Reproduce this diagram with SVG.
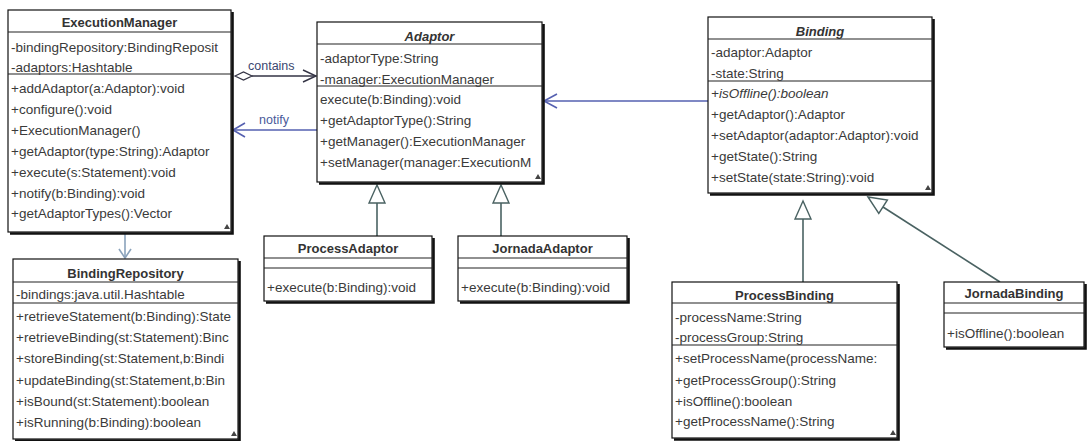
<svg xmlns="http://www.w3.org/2000/svg" width="1087" height="441" viewBox="0 0 1087 441">
  <style>
    .box { fill: #ffffff; stroke: #111111; stroke-width: 1.2; }
    .shadow { fill: none; stroke: #111111; stroke-width: 2.6; }
    .sep { stroke: #222222; stroke-width: 1.2; }
    .title { font-family: "Liberation Sans", Arial, sans-serif; font-size: 13px; font-weight: bold; fill: #333333; text-anchor: middle; }
    .title-abs { font-style: italic; }
    .member { font-family: "Liberation Sans", Arial, sans-serif; font-size: 13.5px; fill: #3a3a3a; }
    .abs { font-style: italic; }
    .corner { fill: #444444; }
    .gen { fill: none; stroke: #4a6262; stroke-width: 1.6; }
    .gen-head { fill: #ffffff; stroke: #4a6262; stroke-width: 1.4; }
    .assoc-dark { fill: none; stroke: #333344; stroke-width: 1.4; }
    .assoc-blue { fill: none; stroke: #5560b0; stroke-width: 1.6; }
    .assoc-light { fill: none; stroke: #8aa2bb; stroke-width: 1.6; }
    .label { font-family: "Liberation Sans", Arial, sans-serif; font-size: 12.5px; }
  </style>

  <!-- connectors -->
  <g id="connectors">
    <!-- ExecutionManager contains Adaptor (aggregation) -->
    <polygon class="box" points="235,76 243.5,72 252,76 243.5,80" style="stroke:#333344"/>
    <line class="assoc-dark" x1="252" y1="76" x2="316" y2="76"/>
    <polyline class="assoc-dark" points="303,70 316,76 303,82"/>
    <text class="label" x="248" y="70" fill="#3a4670">contains</text>

    <!-- Adaptor notify ExecutionManager -->
    <line class="assoc-blue" x1="317" y1="130" x2="233" y2="130"/>
    <polyline class="assoc-blue" points="245,123 233,130 245,137"/>
    <text class="label" x="259" y="124" fill="#4a5a9a">notify</text>

    <!-- Binding to Adaptor -->
    <line class="assoc-blue" x1="708" y1="101" x2="544" y2="101"/>
    <polyline class="assoc-blue" points="557,94 544,101 557,108"/>

    <!-- ExecutionManager to BindingRepository -->
    <line class="assoc-light" x1="125" y1="234" x2="125" y2="258"/>
    <polyline class="assoc-light" points="119,249 125,258 131,249"/>

    <!-- generalizations -->
    <line class="gen" x1="377" y1="236" x2="377" y2="203"/>
    <polygon class="gen-head" points="377,185 369,203 385,203"/>
    <line class="gen" x1="501" y1="236" x2="501" y2="203"/>
    <polygon class="gen-head" points="501,185 493,203 509,203"/>
    <line class="gen" x1="803" y1="282" x2="803" y2="219"/>
    <polygon class="gen-head" points="803,201 795,219 811,219"/>
    <line class="gen" x1="1000" y1="282" x2="883" y2="207"/>
    <polygon class="gen-head" points="868,197 878.8,213.4 887.4,200"/>
  </g>

  <!-- ExecutionManager -->
  <g id="ExecutionManager">
    <rect class="box" x="8" y="10" width="223" height="222"/>
    <path class="shadow" d="M232.5,12 V233.5 H10"/>
    <line class="sep" x1="8" y1="32" x2="231" y2="32"/>
    <line class="sep" x1="8" y1="74" x2="231" y2="74"/>
    <path class="corner" d="M224,229 l3,-5 l3,5 z"/>
    <svg x="8" y="10" width="223" height="222">
      <text class="title" x="111.5" y="17">ExecutionManager</text>
      <text class="member" x="3" y="41.5">-bindingRepository:BindingReposit</text>
      <text class="member" x="3" y="62">-adaptors:Hashtable</text>
      <text class="member" x="3" y="83">+addAdaptor(a:Adaptor):void</text>
      <text class="member" x="3" y="104">+configure():void</text>
      <text class="member" x="3" y="125">+ExecutionManager()</text>
      <text class="member" x="3" y="146">+getAdaptor(type:String):Adaptor</text>
      <text class="member" x="3" y="167">+execute(s:Statement):void</text>
      <text class="member" x="3" y="188">+notify(b:Binding):void</text>
      <text class="member" x="3" y="208">+getAdaptorTypes():Vector</text>
    </svg>
  </g>

  <!-- BindingRepository -->
  <g id="BindingRepository">
    <rect class="box" x="13" y="259" width="225" height="180"/>
    <path class="shadow" d="M239.5,261 V440.5 H15"/>
    <line class="sep" x1="13" y1="282" x2="238" y2="282"/>
    <line class="sep" x1="13" y1="303" x2="238" y2="303"/>
    <path class="corner" d="M231,436 l3,-5 l3,5 z"/>
    <svg x="13" y="259" width="225" height="180">
      <text class="title" x="112.5" y="18.5">BindingRepository</text>
      <text class="member" x="3" y="39.5">-bindings:java.util.Hashtable</text>
      <text class="member" x="3" y="61.5">+retrieveStatement(b:Binding):State</text>
      <text class="member" x="3" y="82.5">+retrieveBinding(st:Statement):Binc</text>
      <text class="member" x="3" y="103.5">+storeBinding(st:Statement,b:Bindi</text>
      <text class="member" x="3" y="125.5">+updateBinding(st:Statement,b:Bin</text>
      <text class="member" x="3" y="146.5">+isBound(st:Statement):boolean</text>
      <text class="member" x="3" y="167.5">+isRunning(b:Binding):boolean</text>
    </svg>
  </g>

  <!-- Adaptor -->
  <g id="Adaptor">
    <rect class="box" x="317" y="22" width="225" height="160"/>
    <path class="shadow" d="M543.5,24 V183.5 H319"/>
    <line class="sep" x1="317" y1="44" x2="542" y2="44"/>
    <line class="sep" x1="317" y1="86" x2="542" y2="86"/>
    <path class="corner" d="M535,179 l3,-5 l3,5 z"/>
    <svg x="317" y="22" width="225" height="160">
      <text class="title title-abs" x="112.5" y="19">Adaptor</text>
      <text class="member" x="3" y="40.5">-adaptorType:String</text>
      <text class="member" x="3" y="61.5">-manager:ExecutionManager</text>
      <text class="member" x="3" y="81.5">execute(b:Binding):void</text>
      <text class="member" x="3" y="102.5">+getAdaptorType():String</text>
      <text class="member" x="3" y="123.5">+getManager():ExecutionManager</text>
      <text class="member" x="3" y="144.5">+setManager(manager:ExecutionM</text>
    </svg>
  </g>

  <!-- ProcessAdaptor -->
  <g id="ProcessAdaptor">
    <rect class="box" x="264" y="236" width="168" height="65"/>
    <path class="shadow" d="M433.5,238 V302.5 H266"/>
    <line class="sep" x1="264" y1="258" x2="432" y2="258"/>
    <line class="sep" x1="264" y1="268" x2="432" y2="268"/>
    <svg x="264" y="236" width="168" height="65">
      <text class="title" x="84" y="16.5">ProcessAdaptor</text>
      <text class="member" x="3" y="55.5">+execute(b:Binding):void</text>
    </svg>
  </g>

  <!-- JornadaAdaptor -->
  <g id="JornadaAdaptor">
    <rect class="box" x="458" y="236" width="169" height="65"/>
    <path class="shadow" d="M628.5,238 V302.5 H460"/>
    <line class="sep" x1="458" y1="258" x2="627" y2="258"/>
    <line class="sep" x1="458" y1="268" x2="627" y2="268"/>
    <svg x="458" y="236" width="169" height="65">
      <text class="title" x="84.5" y="16.5">JornadaAdaptor</text>
      <text class="member" x="3" y="55.5">+execute(b:Binding):void</text>
    </svg>
  </g>

  <!-- Binding -->
  <g id="Binding">
    <rect class="box" x="708" y="17" width="224" height="176"/>
    <path class="shadow" d="M933.5,19 V194.5 H710"/>
    <line class="sep" x1="708" y1="39" x2="932" y2="39"/>
    <line class="sep" x1="708" y1="81" x2="932" y2="81"/>
    <path class="corner" d="M925,190 l3,-5 l3,5 z"/>
    <svg x="708" y="17" width="224" height="176">
      <text class="title title-abs" x="112" y="18.5">Binding</text>
      <text class="member" x="3" y="39.5">-adaptor:Adaptor</text>
      <text class="member" x="3" y="60.5">-state:String</text>
      <text class="member abs" x="3" y="80.5">+isOffline():boolean</text>
      <text class="member" x="3" y="101.5">+getAdaptor():Adaptor</text>
      <text class="member" x="3" y="122.5">+setAdaptor(adaptor:Adaptor):void</text>
      <text class="member" x="3" y="143.5">+getState():String</text>
      <text class="member" x="3" y="164.5">+setState(state:String):void</text>
    </svg>
  </g>

  <!-- ProcessBinding -->
  <g id="ProcessBinding">
    <rect class="box" x="672" y="282" width="225" height="156"/>
    <path class="shadow" d="M898.5,284 V439.5 H674"/>
    <line class="sep" x1="672" y1="303" x2="897" y2="303"/>
    <line class="sep" x1="672" y1="345" x2="897" y2="345"/>
    <path class="corner" d="M890,435 l3,-5 l3,5 z"/>
    <svg x="672" y="282" width="225" height="156">
      <text class="title" x="112.5" y="17.5">ProcessBinding</text>
      <text class="member" x="3" y="39.5">-processName:String</text>
      <text class="member" x="3" y="59.5">-processGroup:String</text>
      <text class="member" x="3" y="80.5">+setProcessName(processName:</text>
      <text class="member" x="3" y="102.5">+getProcessGroup():String</text>
      <text class="member" x="3" y="123.5">+isOffline():boolean</text>
      <text class="member" x="3" y="143.5">+getProcessName():String</text>
    </svg>
  </g>

  <!-- JornadaBinding -->
  <g id="JornadaBinding">
    <rect class="box" x="944" y="282" width="140" height="65"/>
    <path class="shadow" d="M1085.5,284 V348.5 H946"/>
    <line class="sep" x1="944" y1="303" x2="1084" y2="303"/>
    <line class="sep" x1="944" y1="313" x2="1084" y2="313"/>
    <svg x="944" y="282" width="140" height="65">
      <text class="title" x="70" y="15.5">JornadaBinding</text>
      <text class="member" x="3" y="55.5">+isOffline():boolean</text>
    </svg>
  </g>
</svg>
